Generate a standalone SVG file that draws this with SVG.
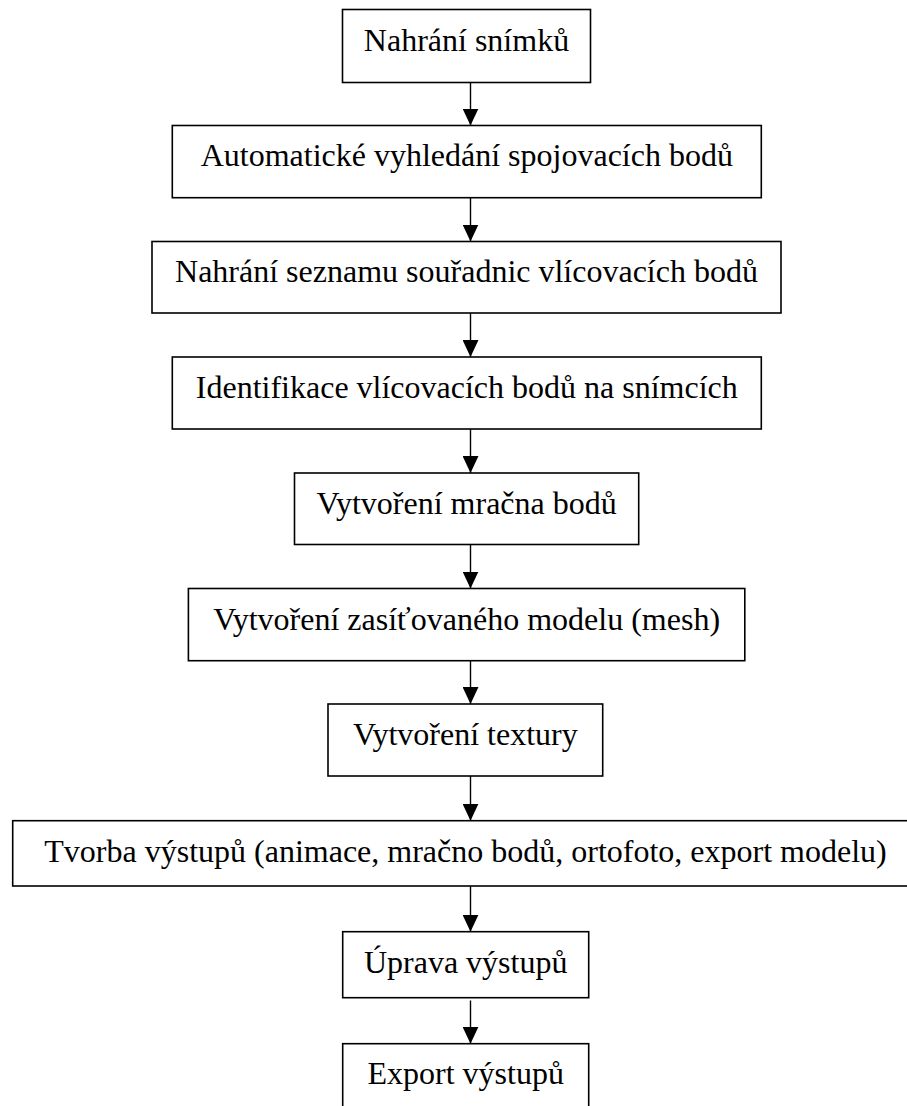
<svg xmlns="http://www.w3.org/2000/svg" width="907" height="1106" viewBox="0 0 907 1106">
<style>
.box{fill:#fff;stroke:#000;stroke-width:1.6}
.lbl{font-family:"Liberation Serif","Times New Roman",serif;font-size:32px;fill:#000;text-anchor:middle}
.con{stroke:#000;stroke-width:1.4;fill:none}
</style>
<defs>
<marker id="arr" markerUnits="userSpaceOnUse" markerWidth="17" markerHeight="16" refX="17" refY="8" orient="auto" viewBox="0 0 17 16">
<path d="M0,0 L17,8 L0,16 Z" fill="#000"/>
</marker>
</defs>
<rect width="907" height="1106" fill="#fff"/>
<g id="connectors">
<path class="con" d="M470.5,82.5 V125.5" marker-end="url(#arr)"/>
<path class="con" d="M470.5,197.7 V241.5" marker-end="url(#arr)"/>
<path class="con" d="M470.5,313 V357" marker-end="url(#arr)"/>
<path class="con" d="M470.5,429 V473" marker-end="url(#arr)"/>
<path class="con" d="M470.5,544.5 V588.5" marker-end="url(#arr)"/>
<path class="con" d="M470.5,660.7 V704" marker-end="url(#arr)"/>
<path class="con" d="M470.5,776 V820.7" marker-end="url(#arr)"/>
<path class="con" d="M470.5,886 V931.7" marker-end="url(#arr)"/>
<path class="con" d="M470.5,1000.5 V1043.7" marker-end="url(#arr)"/>
</g>
<g id="n1"><rect class="box" x="342.5" y="9.5" width="248" height="73"/><text class="lbl" x="466.5" y="50.5">Nahrání snímků</text></g>
<g id="n2"><rect class="box" x="172.3" y="125.5" width="589" height="72.2"/><text class="lbl" x="466.8" y="166">Automatické vyhledání spojovacích bodů</text></g>
<g id="n3"><rect class="box" x="152" y="241.5" width="629" height="71.5"/><text class="lbl" x="466.5" y="282">Nahrání seznamu souřadnic vlícovacích bodů</text></g>
<g id="n4"><rect class="box" x="172.3" y="357" width="589" height="72"/><text class="lbl" x="466.8" y="398">Identifikace vlícovacích bodů na snímcích</text></g>
<g id="n5"><rect class="box" x="294.5" y="473" width="344.2" height="71.5"/><text class="lbl" x="466.6" y="514">Vytvoření mračna bodů</text></g>
<g id="n6"><rect class="box" x="188.4" y="588.5" width="556.4" height="72.2"/><text class="lbl" x="466.6" y="629.5">Vytvoření zasíťovaného modelu (mesh)</text></g>
<g id="n7"><rect class="box" x="328" y="704" width="274.7" height="72"/><text class="lbl" x="465.3" y="745">Vytvoření textury</text></g>
<g id="n8"><rect class="box" x="12.7" y="820.7" width="910" height="65.3"/><text class="lbl" x="465.5" y="861.5">Tvorba výstupů (animace, mračno bodů, ortofoto, export modelu)</text></g>
<g id="n9"><rect class="box" x="342.7" y="931.7" width="246" height="66"/><text class="lbl" x="465.7" y="972.5">Úprava výstupů</text></g>
<g id="n10"><rect class="box" x="342.7" y="1043.7" width="246" height="75"/><text class="lbl" x="465.7" y="1084.3">Export výstupů</text></g>
</svg>
